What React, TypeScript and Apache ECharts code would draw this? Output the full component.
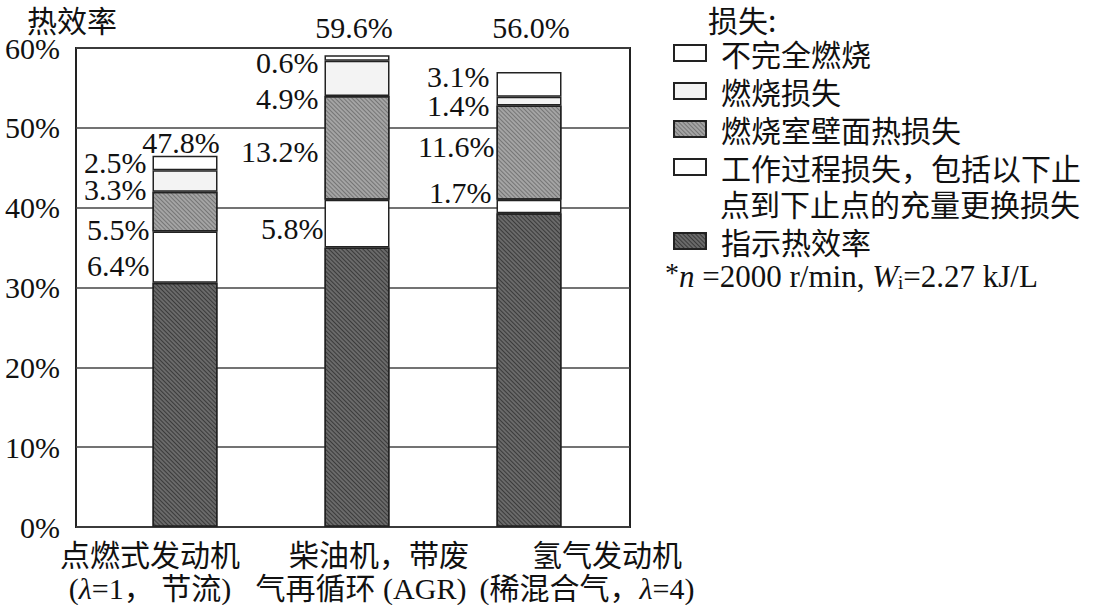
import React, { useEffect, useRef } from "react";
import * as echarts from "echarts";

// ---- data ----
const categoryLine1 = ["点燃式发动机", "柴油机，带废", "氢气发动机"];
const categoryLine2 = ["(λ=1， 节流)", "气再循环 (AGR)", "(稀混合气，λ=4)"];
const categories = categoryLine1.map((c, i) => c + categoryLine2[i]);

const seriesNames = ["指示热效率", "工作过程损失，包括以下止", "燃烧室壁面热损失", "燃烧损失", "不完全燃烧"];
// bar heights as drawn (percent)
const indicated = [30.6, 35.0, 39.3];
const workLoss = [6.4, 6.0, 1.7];
const wallLoss = [5.0, 13.0, 11.8];
const combLoss = [2.7, 4.4, 1.1];
const incomplete = [1.8, 0.7, 3.1];
// printed labels
const workLossLabels = ["6.4%", "5.8%", "1.7%"];
const wallLossLabels = ["5.5%", "13.2%", "11.6%"];
const combLossLabels = ["3.3%", "4.9%", "1.4%"];
const incompleteLabels = ["2.5%", "0.6%", "3.1%"];
const totals = [47.8, 59.6, 56.0];
const totalLabels = ["47.8%", "59.6%", "56.0%"];
const yTicks = [0, 10, 20, 30, 40, 50, 60];

// ---- layout / style ----
const SERIF = '"Liberation Serif", "Times New Roman", "Noto Sans CJK SC", serif';
const CJK = '"Noto Sans CJK SC", "Liberation Serif", sans-serif';
const MIX = '"Liberation Serif", "Noto Sans CJK SC", serif';
const INK = "#111";
const EDGE = "#222";

const labelOffsets = {
  work: [[2, 8], [4, 5], [0, -14]],
  wall: [[2, 18], [-1, 4], [3, -6]],
  comb: [[-1, 9], [-1, 20], [-2, 4]],
  inc: [[-1, 0], [-1, 5], [-2, -8]],
};
const totalOffsets = [[-4, 10], [-3, -11], [2, -40]];
const xLabelPos = [
  [150, 150],
  [379, 361],
  [607, 587],
];

function makeData(values: number[], labels: string[] | null, offs: number[][] | null) {
  return values.map((v, i) => {
    if (!labels || !offs) return { value: v };
    return {
      value: v,
      label: {
        show: true,
        position: "left",
        distance: 5,
        offset: offs[i],
        formatter: labels[i],
      },
    };
  });
}

const hatch = (c: string) => ({
  symbol: "rect",
  symbolSize: 1,
  dashArrayX: [1, 0],
  dashArrayY: [1, 2],
  rotation: Math.PI / 4,
  color: c,
});

export default function App() {
  const ref = useRef<HTMLDivElement>(null);
  useEffect(() => {
    if (!ref.current) return;
    const chart = echarts.init(ref.current, undefined, { renderer: "svg" });
    const labelStyle = {
      fontFamily: SERIF,
      fontSize: 30,
      lineHeight: 24,
      color: INK,
      opacity: 1,
    };
    const barBase = {
      type: "bar",
      stack: "total",
      xAxisIndex: 1,
      yAxisIndex: 1,
      barWidth: 65,
      label: labelStyle,
    };
    const option: any = {
      animation: false,
      backgroundColor: "#fff",
      grid: [
        { left: 76, top: 48, width: 554, height: 479, show: true, borderColor: EDGE, borderWidth: 2, backgroundColor: "transparent" },
        { left: 99, top: 48, width: 516, height: 479 },
      ],
      xAxis: [
        { type: "category", gridIndex: 0, data: [""], show: false },
        { type: "category", gridIndex: 1, data: categories, show: false },
      ],
      yAxis: [
        {
          type: "value",
          gridIndex: 0,
          min: 0,
          max: 60,
          interval: 10,
          axisLine: { show: false },
          axisTick: { show: false },
          splitLine: { lineStyle: { color: "#444", width: 1.5 } },
          axisLabel: {
            formatter: (v: number) => (yTicks.includes(v) ? v + "%" : ""),
            fontFamily: SERIF,
            fontSize: 30,
            color: INK,
            margin: 16,
            padding: [7, 0, 0, 0],
          },
        },
        { type: "value", gridIndex: 1, min: 0, max: 60, interval: 10, show: false },
      ],
      legend: [
        {
          orient: "vertical",
          left: 673,
          top: 38,
          padding: 0,
          itemWidth: 32,
          itemHeight: 16,
          itemGap: 8,
          icon: "rect",
          data: ["不完全燃烧", "燃烧损失", "燃烧室壁面热损失", "工作过程损失，包括以下止"],
          textStyle: { fontFamily: CJK, fontSize: 30, lineHeight: 28, color: INK, padding: [0, 0, 0, 10] },
          selectedMode: false,
        },
        {
          orient: "vertical",
          left: 673,
          top: 226,
          padding: 0,
          itemWidth: 32,
          itemHeight: 16,
          icon: "rect",
          data: ["指示热效率"],
          textStyle: { fontFamily: CJK, fontSize: 30, lineHeight: 28, color: INK, padding: [0, 0, 0, 10] },
          selectedMode: false,
        },
      ],
      series: [
        {
          ...barBase,
          name: seriesNames[0],
          data: makeData(indicated, null, null),
          itemStyle: { color: "#6a6a6a", borderColor: EDGE, borderWidth: 1.5, decal: hatch("rgba(20,20,20,0.55)") },
        },
        {
          ...barBase,
          name: seriesNames[1],
          data: makeData(workLoss, workLossLabels, labelOffsets.work),
          itemStyle: { color: "#ffffff", borderColor: EDGE, borderWidth: 1.5 },
        },
        {
          ...barBase,
          name: seriesNames[2],
          data: makeData(wallLoss, wallLossLabels, labelOffsets.wall),
          itemStyle: { color: "#a4a4a4", borderColor: EDGE, borderWidth: 1.5, decal: hatch("rgba(60,60,60,0.45)") },
        },
        {
          ...barBase,
          name: seriesNames[3],
          data: makeData(combLoss, combLossLabels, labelOffsets.comb),
          itemStyle: { color: "#f3f3f3", borderColor: EDGE, borderWidth: 1.5 },
        },
        {
          ...barBase,
          name: seriesNames[4],
          data: makeData(incomplete, incompleteLabels, labelOffsets.inc),
          itemStyle: { color: "#ffffff", borderColor: EDGE, borderWidth: 1.5 },
        },
        {
          type: "scatter",
          name: "总计",
          xAxisIndex: 1,
          yAxisIndex: 1,
          symbolSize: 1,
          itemStyle: { color: "rgba(0,0,0,0)", opacity: 1 },
          emphasis: { disabled: true },
          z: 5,
          data: totals.map((v, i) => ({
            value: v,
            label: {
              show: true,
              position: "top",
              distance: 0,
              offset: totalOffsets[i],
              formatter: totalLabels[i],
              ...labelStyle,
            },
          })),
        },
      ],
      graphic: [
        {
          type: "text",
          x: 27,
          y: 19,
          style: { text: "热效率", fontFamily: CJK, fontSize: 30, lineHeight: 30, fill: INK, textVerticalAlign: "middle" },
        },
        {
          type: "text",
          x: 708,
          y: 19,
          style: { text: "损失:", fontFamily: CJK, fontSize: 30, lineHeight: 30, fill: INK, textVerticalAlign: "middle" },
        },
        {
          type: "text",
          x: 720,
          y: 203,
          style: { text: "点到下止点的充量更换损失", fontFamily: CJK, fontSize: 30, lineHeight: 28, fill: INK, textVerticalAlign: "middle" },
        },
        {
          type: "text",
          x: 665,
          y: 276,
          style: {
            text: "{a|*}{i|n} =2000 r/min, {i|W}{s|i}=2.27 kJ/L",
            textVerticalAlign: "middle",
            fill: INK,
            rich: {
              a: { fontFamily: SERIF, fontSize: 28, fill: INK, padding: [0, 0, 8, 0] },
              i: { fontFamily: SERIF, fontSize: 31, fontStyle: "italic", fill: INK },
              s: { fontFamily: SERIF, fontSize: 19, fill: INK, padding: [12, 0, 0, 0] },
            },
            fontFamily: SERIF,
            fontSize: 31,
          },
        },
        ...categoryLine1.map((t, i) => ({
          type: "text",
          x: xLabelPos[i][0],
          y: 555,
          style: { text: t, fontFamily: MIX, fontSize: 30, lineHeight: 28, fill: INK, textAlign: "center", textVerticalAlign: "middle" },
        })),
        ...categoryLine2.map((t, i) => ({
          type: "text",
          x: xLabelPos[i][1],
          y: 588,
          style: {
            text: t.replace("λ", "{l|λ}"),
            fontFamily: MIX,
            fontSize: 30,
            lineHeight: 28,
            fill: INK,
            textAlign: "center",
            textVerticalAlign: "middle",
            rich: { l: { fontFamily: SERIF, fontSize: 30, fontStyle: "italic", fill: INK } },
          },
        })),
      ],
    };
    chart.setOption(option);
    return () => chart.dispose();
  }, []);
  return <div ref={ref} style={{ width: 1094, height: 605, position: "absolute", left: 0, top: 0 }} />;
}
